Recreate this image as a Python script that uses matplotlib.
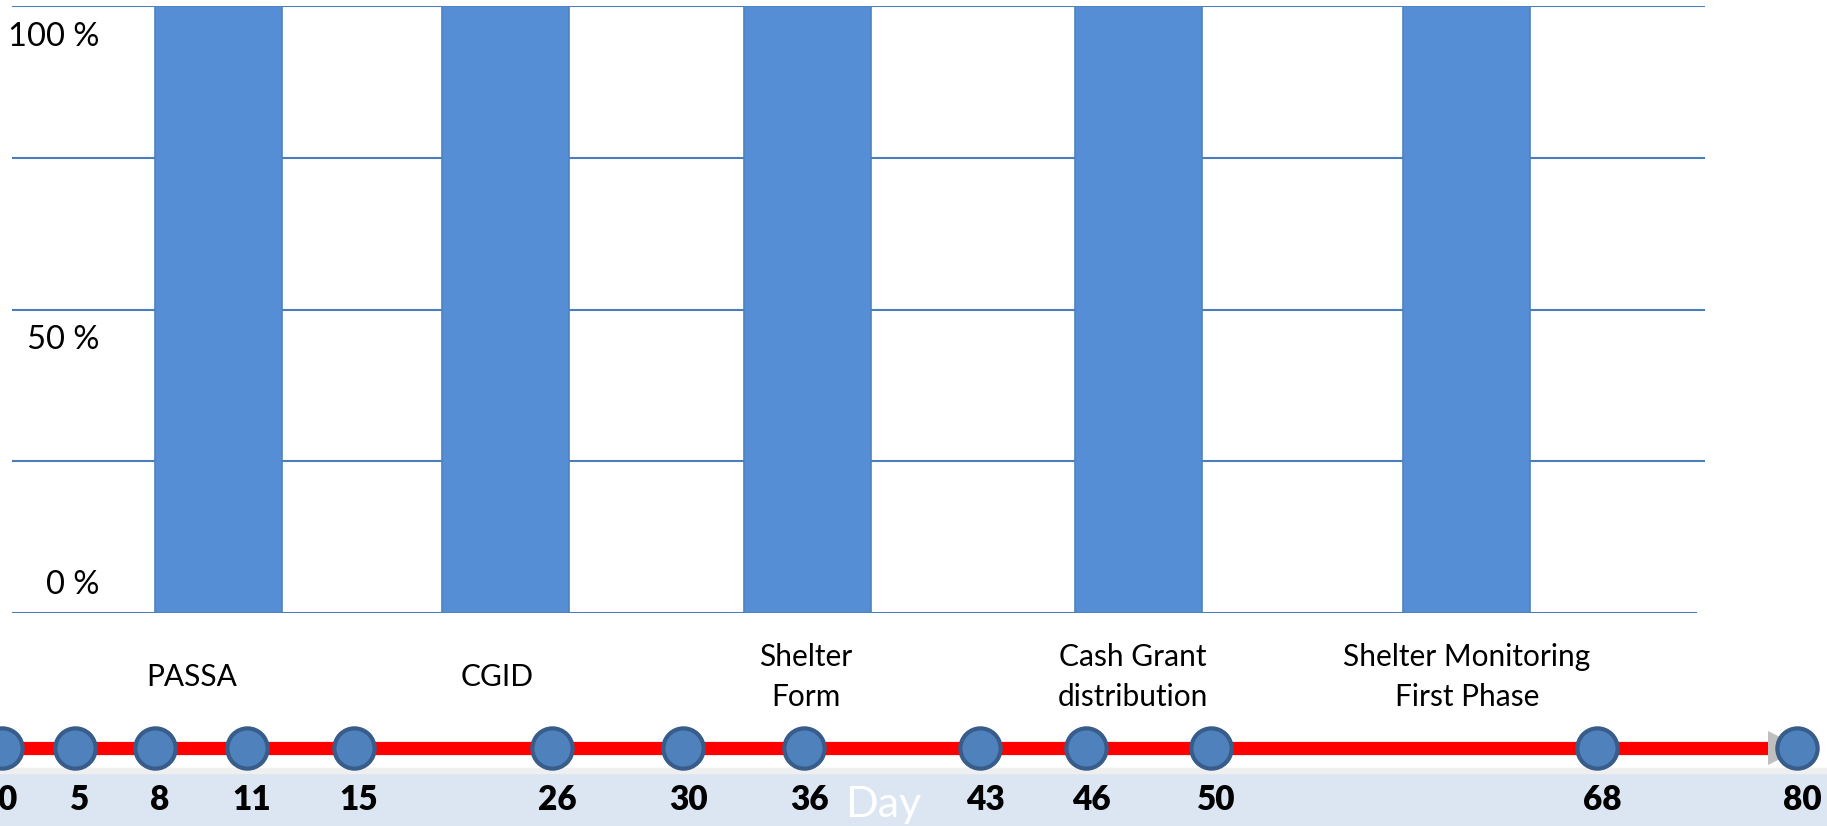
import matplotlib
matplotlib.use("Agg")
import matplotlib.pyplot as plt
from matplotlib.patches import Rectangle

plt.rcParams['font.family'] = ['Lato', 'DejaVu Sans']

# data
activities = ["PASSA", "CGID", "Shelter\nForm", "Cash Grant\ndistribution",
              "Shelter Monitoring\nFirst Phase"]
progress = [100, 100, 100, 100, 100]
pct_labels = ["0 %", "50 %", "100 %"]
days = [0, 5, 8, 11, 15, 26, 30, 36, 43, 46, 50, 68, 80]

# layout (figure is laid out in pixel units, 1827 x 826)
W, H = 1827, 826
bar_x = [218, 505, 807, 1138, 1466]
label_x = [192, 497, 806, 1133, 1467]
day_x = [2, 75, 155, 247, 354, 552, 683, 804, 980, 1086, 1211, 1597, 1797]
bar_color = "#558ED5"
grid_color = "#4A7EBB"

fig = plt.figure(figsize=(W / 100, H / 100), dpi=100)

# bar chart area: 0 % at y=613 px, 100 % at y=6 px
y0, y100 = 613, 6
ax = fig.add_axes([0, (H - y0) / H, 1, (y0 - y100) / H])
ax.set_xlim(0, W)
ax.set_ylim(0, 100)
ax.axis("off")

for g in [0, 25, 50, 75, 100]:
    ax.hlines(g, 12, 1697 if g == 0 else 1705, color=grid_color, lw=1.5, zorder=1)

ax.bar(bar_x, progress, width=127, color=bar_color, edgecolor="#4F81BD",
       linewidth=1.2, zorder=2)

# percent labels sit a little off their gridlines, as in the slide
for txt, yv in zip(pct_labels, [4.6, 45.0, 94.9]):
    ax.text(99, yv, txt, ha="right", va="center", fontsize=23.5, color="black")

# timeline area in pixel units (y measured from the bottom)
tl = fig.add_axes([0, 0, 1, (H - y0) / H])
tl.set_xlim(0, W)
tl.set_ylim(0, H - y0)
tl.axis("off")

tl.add_patch(Rectangle((0, 0), W, 53, color="#DCE6F2", zorder=0))
tl.add_patch(Rectangle((0, 53), W, 5, color="#EFEFEF", zorder=0))

for txt, x in zip(activities, label_x):
    tl.text(x, 149, txt, ha="center", va="center", fontsize=21.5,
            linespacing=1.5, color="black")

line_y = 78
tl.plot([0, day_x[-1] - 15], [line_y, line_y], color="red", lw=9.5,
        solid_capstyle="butt", zorder=2)
tl.plot([day_x[-1] - 12], [line_y], marker=">", ms=25, color="#BFBFBF",
        mew=0, zorder=2)
tl.plot(day_x, [line_y] * len(day_x), "o", ms=29, mfc="#4F81BD",
        mec="#385D8A", mew=3, zorder=3, clip_on=False)

for d, x in zip(days, day_x):
    tl.text(x + 5, 16, str(d), ha="center", va="baseline", fontsize=24,
            fontweight="heavy", color="black")

tl.text(883, 9, "Day", ha="center", va="baseline", fontsize=31, color="white")

fig.savefig("out.png", dpi=100)
